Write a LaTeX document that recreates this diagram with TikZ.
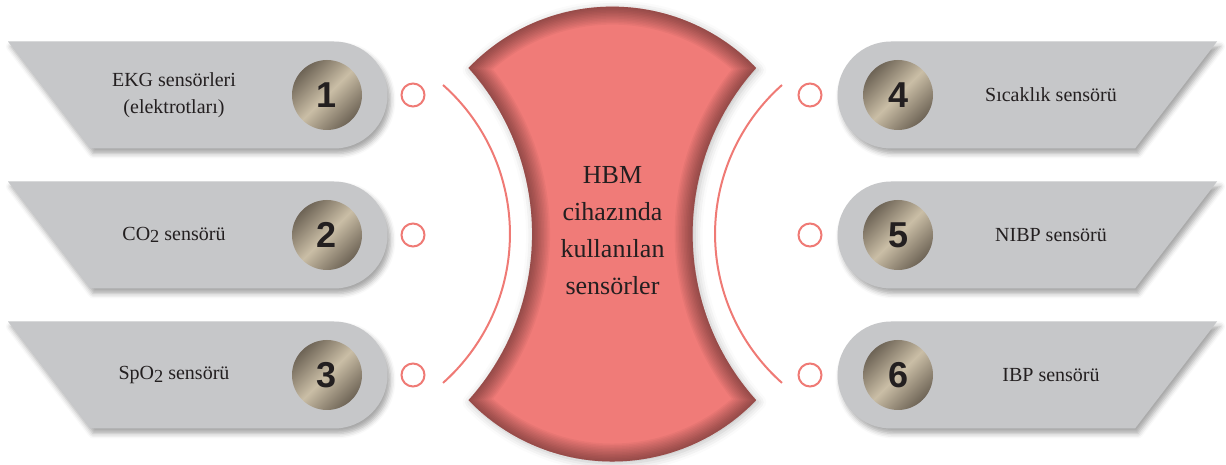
\documentclass[tikz,border=0pt]{standalone}
\usepackage{fontspec}
\setmainfont{Liberation Serif}
\newfontfamily\numfont{Liberation Sans}
\usepackage{xcolor}
\usetikzlibrary{shadows.blur}
\definecolor{bannergray}{RGB}{198,199,201}
\definecolor{hbmred}{RGB}{240,123,120}
\definecolor{ringred}{RGB}{239,122,117}
\definecolor{metaldark}{RGB}{110,100,86}
\definecolor{metallight}{RGB}{202,190,166}
\definecolor{textdark}{RGB}{35,31,32}
\newcommand{\subtwo}{\raisebox{-0.3ex}{\scalebox{0.92}{2}}}
\newcommand{\hbmshape}{(468.5,397) arc[start angle=136.2,end angle=43.8,radius=199.3] arc[start angle=138.1,end angle=221.9,radius=248.7] arc[start angle=-43.8,end angle=-136.2,radius=199.3] arc[start angle=-41.9,end angle=41.9,radius=248.7] -- cycle}

\begin{document}
\begin{tikzpicture}[x=1pt,y=1pt,
 banner/.style={fill=bannergray, blur shadow={shadow xshift=3pt, shadow yshift=-5pt, shadow blur radius=5pt, shadow opacity=35}},
 metal/.style={circle, minimum size=70pt, inner sep=0pt, shading=axis, top color=metaldark, bottom color=metaldark, middle color=metallight, shading angle=45, text=textdark, font=\numfont\bfseries\fontsize{36}{36}\selectfont},
 label/.style={text=textdark, align=center, font=\fontsize{20}{27}\selectfont},
 dot/.style={circle, draw=ringred, line width=2pt, minimum size=23pt, inner sep=0pt},
 ring/.style={draw=ringred, line width=2pt}]
\useasboundingbox (0,0) rectangle (1226,465);

 %left banners:
 \foreach \i/\Y/\t in {1/370/{EKG sensörleri\\(elektrotları)}, 2/230/{CO\subtwo{} sensörü}, 3/90/{SpO\subtwo{} sensörü}}{
  \fill[banner] (8,\Y+53.5) -- (334,\Y+53.5) arc[start angle=90,end angle=-90,radius=53.5] -- (90,\Y-53.5) -- cycle;
  \node[metal] (n\i) at (327,\Y) {\i};
  \node[label] (t\i) at (174,\Y) {\t};
  \node[dot] (d\i) at (413,\Y) {};
 }

 %right banners:
 \foreach \i/\Y/\t in {4/370/{Sıcaklık sensörü}, 5/230/{NIBP sensörü}, 6/90/{IBP sensörü}}{
  \fill[banner] (1217,\Y+53.5) -- (891,\Y+53.5) arc[start angle=90,end angle=270,radius=53.5] -- (1135,\Y-53.5) -- cycle;
  \node[metal] (n\i) at (898,\Y) {\i};
  \node[label] (t\i) at (1051,\Y) {\t};
  \node[dot] (d\i) at (810,\Y) {};
 }

 %arcs:
 \draw[ring] (443,380) arc[start angle=48.4,end angle=-48.4,radius=199.2];
 \draw[ring] (782,380) arc[start angle=131.6,end angle=228.4,radius=199.2];

 %centre:
 \fill[hbmred, blur shadow={shadow xshift=2pt, shadow yshift=-2pt, shadow blur radius=8pt, shadow opacity=25}] \hbmshape;
 \begin{scope}
  \clip \hbmshape;
  \foreach \w in {3,6,...,36}
   \draw[line width=\w, black, opacity=0.035] \hbmshape;
 \end{scope}
 \node[text=textdark, align=center, font=\fontsize{26}{37}\selectfont] (hbm) at (612.5,234) {HBM\\cihazında\\kullanılan\\sensörler};
\end{tikzpicture}
\end{document}
